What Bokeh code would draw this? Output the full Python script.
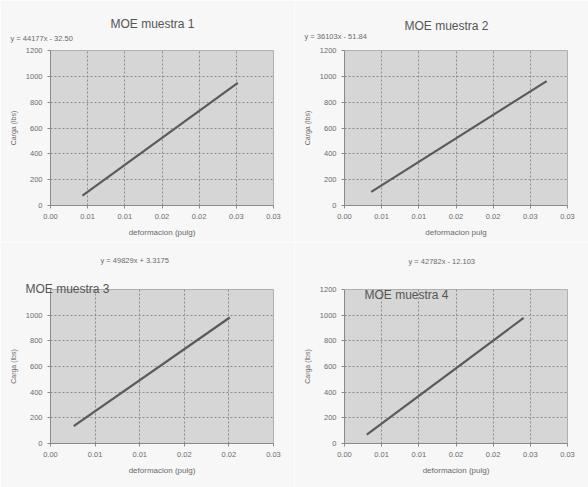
from bokeh.plotting import figure
from bokeh.layouts import gridplot
from bokeh.models import Label, FixedTicker, Range1d, Title
from bokeh.embed import file_html
from bokeh.resources import INLINE

# ---- data ----
titles = ["MOE muestra 1", "MOE muestra 2", "MOE muestra 3", "MOE muestra 4"]
equations = ["y = 44177x - 32.50", "y = 36103x - 51.84", "y = 49829x + 3.3175", "y = 42782x - 12.103"]
x_labels_txt = ["deformacion (pulg)", "deformacion pulg", "deformacion (pulg)", "deformacion (pulg)"]
y_label_txt = "Carga (lbs)"

x1 = [0.0043, 0.0252]
y1 = [76, 950]
x2 = [0.0036, 0.0272]
y2 = [105, 963]
x3 = [0.0026, 0.0201]
y3 = [135, 982]
x4 = [0.0030, 0.0241]
y4 = [70, 979]

x_ticks_7 = [0.0, 0.005, 0.010, 0.015, 0.020, 0.025, 0.030]
x_tick_labels_7 = ["0.00", "0.01", "0.01", "0.02", "0.02", "0.03", "0.03"]
x_ticks_6 = [0.0, 0.005, 0.010, 0.015, 0.020, 0.025]
x_tick_labels_6 = ["0.00", "0.01", "0.01", "0.02", "0.02", "0.03"]
y_ticks_full = [0, 200, 400, 600, 800, 1000, 1200]
y_ticks_short = [0, 200, 400, 600, 800, 1000]

FONT = "Liberation Sans"
TXT = "#6a6a6a"
TITLE_C = "#555555"
BORDER = "#f7f7f7"

# per-panel layout: size, borders, stacked texts above the plot area
# stack entries (closest to plot first): ("title"/"eq"/"gap", offset, standoff)
panels = [
    dict(xs=x1, ys=y1, w=294, h=242, l=50, r=14, t=47, b=37, xt=x_ticks_7, xtl=x_tick_labels_7,
         yt=y_ticks_full, stack=[("gap", 0, 1.8), ("eq", -40, 0), ("title", 60, 1.6)]),
    dict(xs=x2, ys=y2, w=294, h=242, l=50, r=17, t=50, b=31, xt=x_ticks_7, xtl=x_tick_labels_7,
         yt=y_ticks_full, stack=[("gap", 0, 3.8), ("eq", -40, 0), ("title", 60, -7)]),
    dict(xs=x3, ys=y3, w=294, h=245, l=50, r=21, t=47, b=44, xt=x_ticks_6, xtl=x_tick_labels_6,
         yt=y_ticks_short, stack=[("title", -25, -12), ("gap", 0, 15.0), ("eq", 50, 0)]),
    dict(xs=x4, ys=y4, w=294, h=245, l=43, r=21, t=47, b=40, xt=x_ticks_7, xtl=x_tick_labels_7,
         yt=y_ticks_full, stack=[("gap", 0, 17.8), ("eq", 64, 0)], inside_title=(20, 9)),
]

figs = []
for i, c in enumerate(panels):
    xmax = c["xt"][-1]
    p = figure(width=c["w"], height=c["h"], output_backend="svg", toolbar_location=None,
               title_location=None, x_range=Range1d(0, xmax), y_range=Range1d(0, 1200),
               min_border_left=c["l"], min_border_right=c["r"],
               min_border_top=c["t"], min_border_bottom=c["b"])
    p.background_fill_color = "#d6d6d6"
    p.border_fill_color = BORDER
    p.outline_line_color = "#b0b0b0"

    p.line(c["xs"], c["ys"], line_color="#5a5a5a", line_width=2.2)

    p.xaxis.ticker = FixedTicker(ticks=c["xt"])
    p.xaxis.major_label_overrides = {t: lab for t, lab in zip(c["xt"], c["xtl"])}
    p.yaxis.ticker = FixedTicker(ticks=c["yt"])
    p.xaxis.axis_label = x_labels_txt[i]
    p.yaxis.axis_label = y_label_txt
    for ax in (p.xaxis[0], p.yaxis[0]):
        ax.major_label_text_font = FONT
        ax.major_label_text_font_size = "7.5px"
        ax.major_label_text_color = TXT
        ax.axis_label_text_font = FONT
        ax.axis_label_text_font_style = "normal"
        ax.axis_label_text_color = TXT
        ax.axis_line_color = "#8a8a8a"
        ax.major_tick_line_color = "#8a8a8a"
        ax.major_tick_out = 3
        ax.major_tick_in = 0
        ax.minor_tick_line_color = None
        ax.axis_label_standoff = 6
    p.xaxis.axis_label_text_font_size = "8px"
    p.yaxis.axis_label_text_font_size = "7px"
    p.grid.grid_line_color = "#8c8c8c"
    p.grid.grid_line_dash = "2 2"
    p.grid.grid_line_width = 1

    for kind, off, stand in c["stack"]:
        if kind == "gap":
            # spacing element, drawn in the border colour
            t = Title(text=".", text_font=FONT, text_font_size="6px", standoff=stand,
                      text_color=BORDER, align="right")
        elif kind == "eq":
            t = Title(text=equations[i], align="left", offset=off, standoff=stand,
                      text_font=FONT, text_font_size="7.5px", text_font_style="normal",
                      text_color=TXT)
        else:
            t = Title(text=titles[i], align="left", offset=off, standoff=stand,
                      text_font=FONT, text_font_size="12px", text_font_style="normal",
                      text_color=TITLE_C)
        p.add_layout(t, "above")

    if "inside_title" in c:
        tx, tdy = c["inside_title"]
        frame_h = c["h"] - c["t"] - c["b"]
        p.add_layout(Label(x=tx, y=frame_h - tdy, x_units="screen", y_units="screen",
                           text=titles[i], text_font=FONT, text_font_size="12px",
                           text_color=TITLE_C, text_align="left", text_baseline="middle"))
    figs.append(p)

grid = gridplot([[figs[0], figs[1]], [figs[2], figs[3]]], toolbar_location=None)
open("out.html", "w").write(file_html(grid, INLINE))
